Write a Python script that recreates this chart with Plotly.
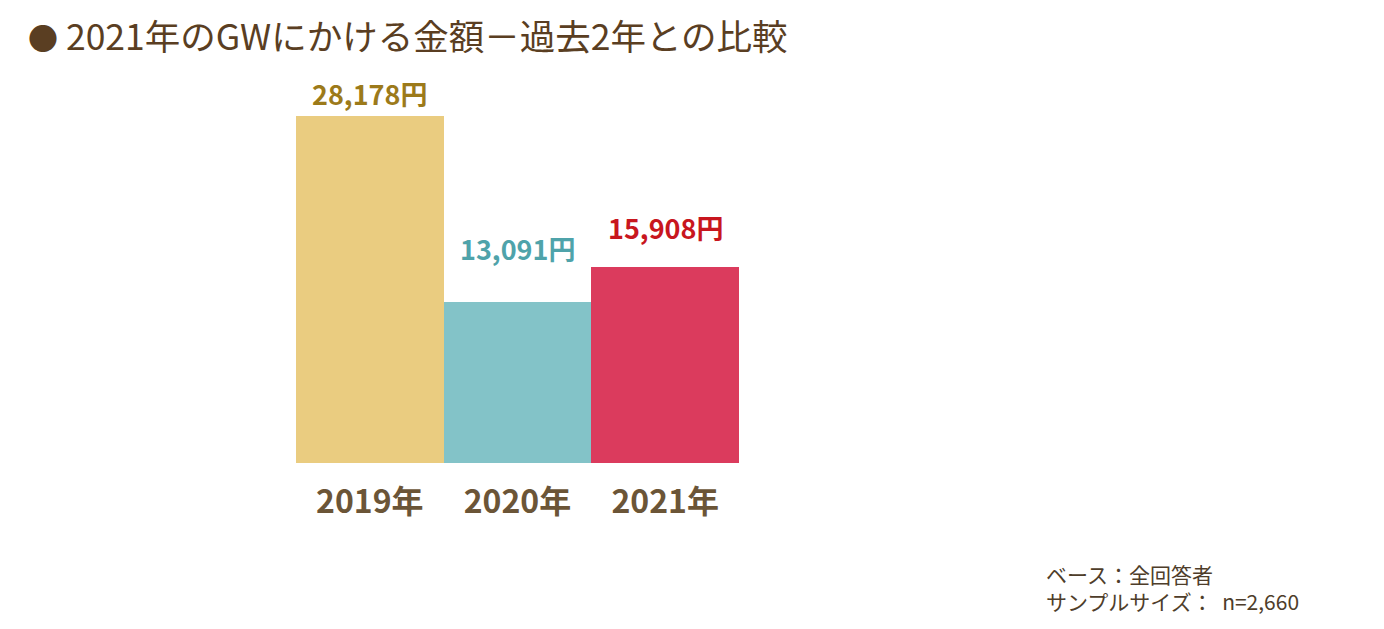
import plotly.graph_objects as go

categories = ["2019年", "2020年", "2021年"]
values = [28178, 13091, 15908]
value_labels = ["28,178円", "13,091円", "15,908円"]
bar_colors = ["#EACC80", "#83C3C8", "#DB3B5D"]
label_colors = ["#9C7A1A", "#4FA3AA", "#C8161E"]
label_offsets = [22, 53, 40]

FONT = "Noto Sans CJK JP"

fig = go.Figure()
fig.add_trace(go.Bar(
    x=categories, y=values,
    marker=dict(color=bar_colors, line=dict(width=0)),
    hoverinfo="skip",
))

for c, v, t, col, off in zip(categories, values, value_labels, label_colors, label_offsets):
    fig.add_annotation(
        x=c, y=v, text=f"<b>{t}</b>", showarrow=False,
        yanchor="middle", yshift=off, xanchor="center",
        font=dict(family=FONT, size=27, color=col),
    )

fig.add_annotation(
    xref="paper", yref="paper", x=(26-296)/443, y=(463-35)/383,
    text="<span style='font-size:30px'>●</span> 2021年のGWにかける金額－過去2年との比較", showarrow=False,
    xanchor="left", yanchor="middle",
    font=dict(family=FONT, size=35.5, color="#5A3E22"),
)

fig.add_annotation(
    xref="paper", yref="paper", x=(1044-296)/443, y=(463-587)/383,
    text="ベース：全回答者<br>サンプルサイズ：  n=2,660", showarrow=False,
    xanchor="left", yanchor="middle", align="left",
    font=dict(family=FONT, size=21, color="#4E3D2A"),
)

fig.update_layout(
    width=1384, height=629,
    margin=dict(l=296, r=645, t=80, b=166),
    paper_bgcolor="white", plot_bgcolor="white",
    bargap=0, showlegend=False,
    xaxis=dict(showline=False, showgrid=False, zeroline=False, ticks="",
               tickvals=categories,
               ticktext=[f"<b>{c}</b>" for c in categories],
               tickfont=dict(family=FONT, size=32, color="#6B5537"),
               ticklabelstandoff=17),
    yaxis=dict(range=[0, 31100], visible=False, showgrid=False, zeroline=False),
)

fig.write_html("out.html")
